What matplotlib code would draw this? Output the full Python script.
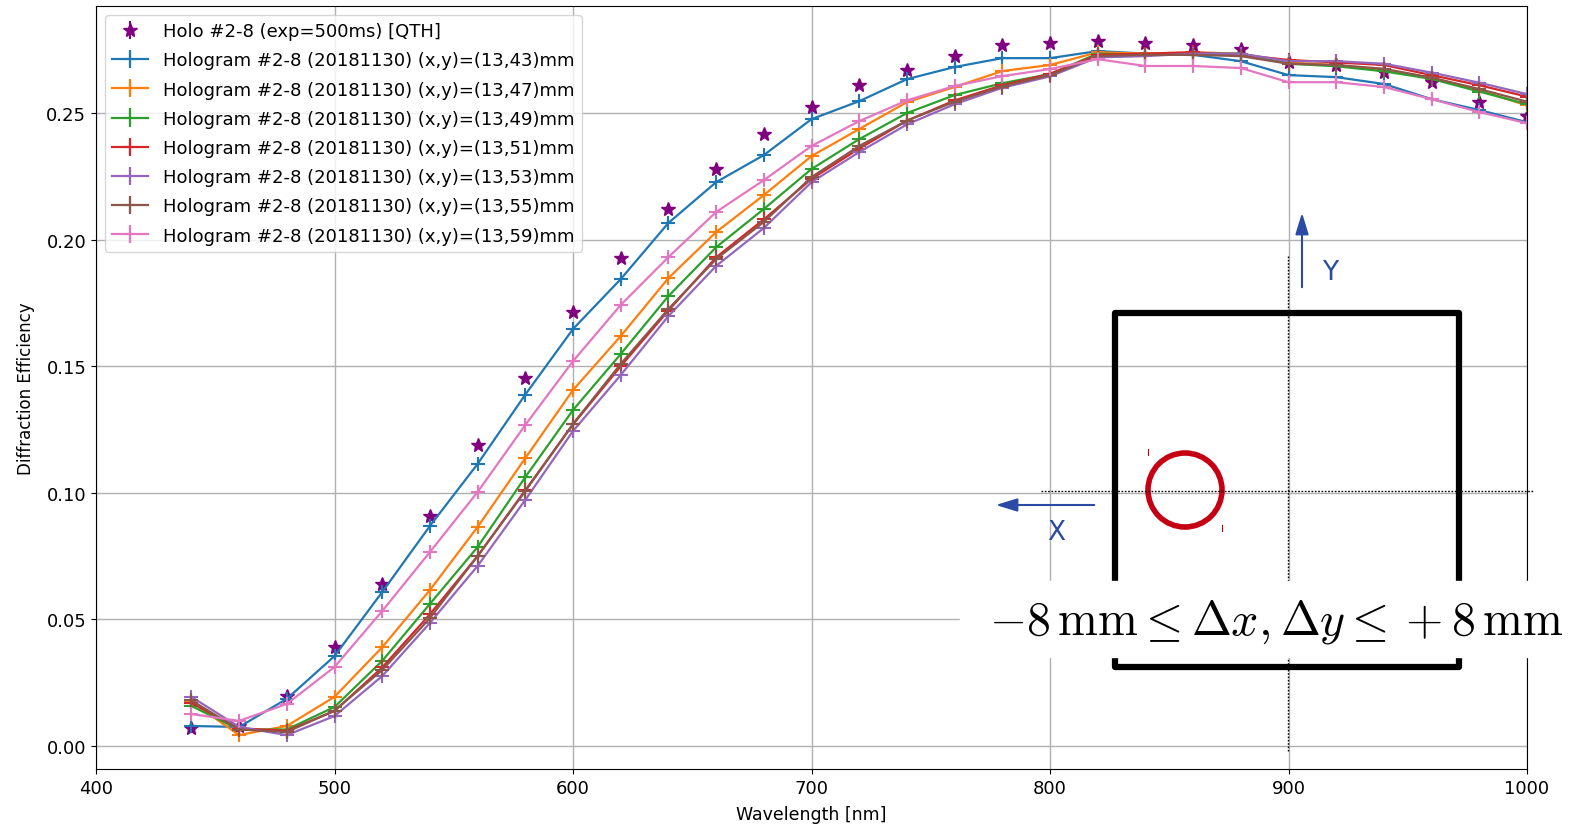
import matplotlib
matplotlib.use("Agg")
import matplotlib.pyplot as plt
from matplotlib.patches import Circle, Rectangle

wl = [440, 460, 480, 500, 520, 540, 560, 580, 600, 620, 640, 660, 680, 700, 720,
      740, 760, 780, 800, 820, 840, 860, 880, 900, 920, 940, 960, 980, 1000]

holo = [0.0071, 0.0080, 0.0197, 0.0390, 0.0640, 0.0908, 0.1189, 0.1453, 0.1714, 0.1927,
        0.2121, 0.2279, 0.2417, 0.2524, 0.2610, 0.2670, 0.2725, 0.2769, 0.2776, 0.2784,
        0.2776, 0.2770, 0.2753, 0.2700, 0.2690, 0.2662, 0.2622, 0.2543, 0.2488]

de_43 = [0.0079, 0.0075, 0.0186, 0.0355, 0.0608, 0.0869, 0.1114, 0.1388, 0.1647, 0.1844,
         0.2066, 0.2227, 0.2334, 0.2476, 0.2547, 0.2634, 0.2682, 0.2717, 0.2717, 0.2745,
         0.2735, 0.2730, 0.2705, 0.2650, 0.2642, 0.2615, 0.2555, 0.2512, 0.2464]
de_47 = [0.0175, 0.0043, 0.0079, 0.0194, 0.0390, 0.0616, 0.0865, 0.1137, 0.1406, 0.1619,
         0.1848, 0.2030, 0.2176, 0.2330, 0.2437, 0.2543, 0.2603, 0.2666, 0.2690, 0.2740,
         0.2735, 0.2740, 0.2735, 0.2700, 0.2690, 0.2670, 0.2640, 0.2590, 0.2530]
de_49 = [0.0158, 0.0065, 0.0065, 0.0154, 0.0336, 0.0561, 0.0786, 0.1062, 0.1327, 0.1548,
         0.1777, 0.1970, 0.2121, 0.2279, 0.2397, 0.2500, 0.2571, 0.2618, 0.2654, 0.2735,
         0.2730, 0.2735, 0.2735, 0.2695, 0.2685, 0.2665, 0.2635, 0.2585, 0.2535]
de_51 = [0.0170, 0.0070, 0.0060, 0.0138, 0.0310, 0.0520, 0.0750, 0.1010, 0.1270, 0.1500,
         0.1720, 0.1930, 0.2080, 0.2240, 0.2360, 0.2470, 0.2550, 0.2610, 0.2655, 0.2730,
         0.2735, 0.2740, 0.2730, 0.2710, 0.2700, 0.2690, 0.2650, 0.2610, 0.2565]
de_53 = [0.0194, 0.0075, 0.0043, 0.0118, 0.0276, 0.0486, 0.0711, 0.0972, 0.1244, 0.1465,
         0.1698, 0.1896, 0.2046, 0.2227, 0.2346, 0.2455, 0.2535, 0.2600, 0.2645, 0.2720,
         0.2725, 0.2735, 0.2735, 0.2705, 0.2705, 0.2695, 0.2660, 0.2620, 0.2575]
de_55 = [0.0180, 0.0065, 0.0055, 0.0140, 0.0300, 0.0505, 0.0750, 0.1007, 0.1272, 0.1509,
         0.1726, 0.1923, 0.2070, 0.2247, 0.2370, 0.2470, 0.2545, 0.2605, 0.2650, 0.2725,
         0.2730, 0.2730, 0.2725, 0.2695, 0.2690, 0.2675, 0.2640, 0.2595, 0.2545]
de_59 = [0.0126, 0.0099, 0.0166, 0.0312, 0.0533, 0.0766, 0.1003, 0.1268, 0.1520, 0.1742,
         0.1931, 0.2109, 0.2235, 0.2370, 0.2468, 0.2550, 0.2607, 0.2646, 0.2674, 0.2713,
         0.2686, 0.2686, 0.2678, 0.2622, 0.2622, 0.2603, 0.2555, 0.2504, 0.2460]

positions = ["(13,43)", "(13,47)", "(13,49)", "(13,51)", "(13,53)", "(13,55)", "(13,59)"]
series = [de_43, de_47, de_49, de_51, de_53, de_55, de_59]
colors = ["C0", "C1", "C2", "C3", "C4", "C5", "C6"]

fig = plt.figure(figsize=(15.7, 8.29), dpi=100)
ax = fig.add_axes([96 / 1570, 59 / 829, 1431 / 1570, 763 / 829])

ax.errorbar(wl, holo, yerr=0.001, fmt="*", color="purple", markersize=10,
            label="Holo #2-8 (exp=500ms) [QTH]")
for pos, vals, c in zip(positions, series, colors):
    ax.errorbar(wl, vals, yerr=0.001, fmt="-+", color=c, markersize=10, mew=1.5, lw=1.6,
                label="Hologram #2-8 (20181130) (x,y)=%smm" % pos)

ax.set_xlim(400, 1000)
ax.set_ylim(-0.0091, 0.2923)
ax.set_yticks([0.0, 0.05, 0.10, 0.15, 0.20, 0.25])
ax.grid(True, color="#b0b0b0", lw=1.0)
ax.tick_params(labelsize=13)
ax.set_xlabel("Wavelength [nm]", fontsize=12.5, labelpad=6)
ax.set_ylabel("Diffraction Efficiency", fontsize=12, labelpad=8)
ax.legend(loc="upper left", fontsize=13, labelspacing=0.62)

# overlay sketch, in pixel coordinates (origin top left)
ov = fig.add_axes([0, 0, 1, 1], zorder=5)
ov.set_xlim(0, 1570)
ov.set_ylim(829, 0)
ov.axis("off")

ov.plot([1288, 1288], [257, 752], ls=(0, (1.2, 1.2)), color="k", lw=1)
ov.plot([1041, 1533], [492, 492], ls=(0, (1.2, 1.2)), color="k", lw=1)
ov.plot([1115, 1115, 1459, 1459], [582, 314, 314, 582], color="k", lw=4.5,
        solid_joinstyle="round", solid_capstyle="butt")
ov.plot([1115, 1115, 1459, 1459], [658, 668, 668, 658], color="k", lw=4.5,
        solid_joinstyle="round", solid_capstyle="butt")
ov.add_patch(Circle((1185, 491), 37, fill=False, ec="#c40012", lw=4))
ov.plot([1148, 1148], [450, 456], color="#c40012", lw=0.8)
ov.plot([1222, 1222], [526, 532], color="#c40012", lw=0.8)

blue = "#2a4aa6"
ov.annotate("", xy=(1302, 211), xytext=(1302, 291),
            arrowprops=dict(arrowstyle="-|>,head_length=1.3,head_width=0.4", color=blue, lw=1.5))
ov.annotate("", xy=(993, 506), xytext=(1097, 506),
            arrowprops=dict(arrowstyle="-|>,head_length=1.3,head_width=0.4", color=blue, lw=1.5))
ov.text(1330, 273, "Y", color=blue, fontsize=19, ha="center", va="center")
ov.text(1056, 533, "X", color=blue, fontsize=19, ha="center", va="center")

ov.add_patch(Rectangle((960, 582), 610, 76, color="white", zorder=3))
ov.text(1276, 634, r"$-8\,\mathrm{mm} \leq \Delta x, \Delta y \leq +8\,\mathrm{mm}$",
        math_fontfamily="cm", fontsize=34.5, ha="center", va="baseline", zorder=4)

fig.savefig("out.png", dpi=100)
